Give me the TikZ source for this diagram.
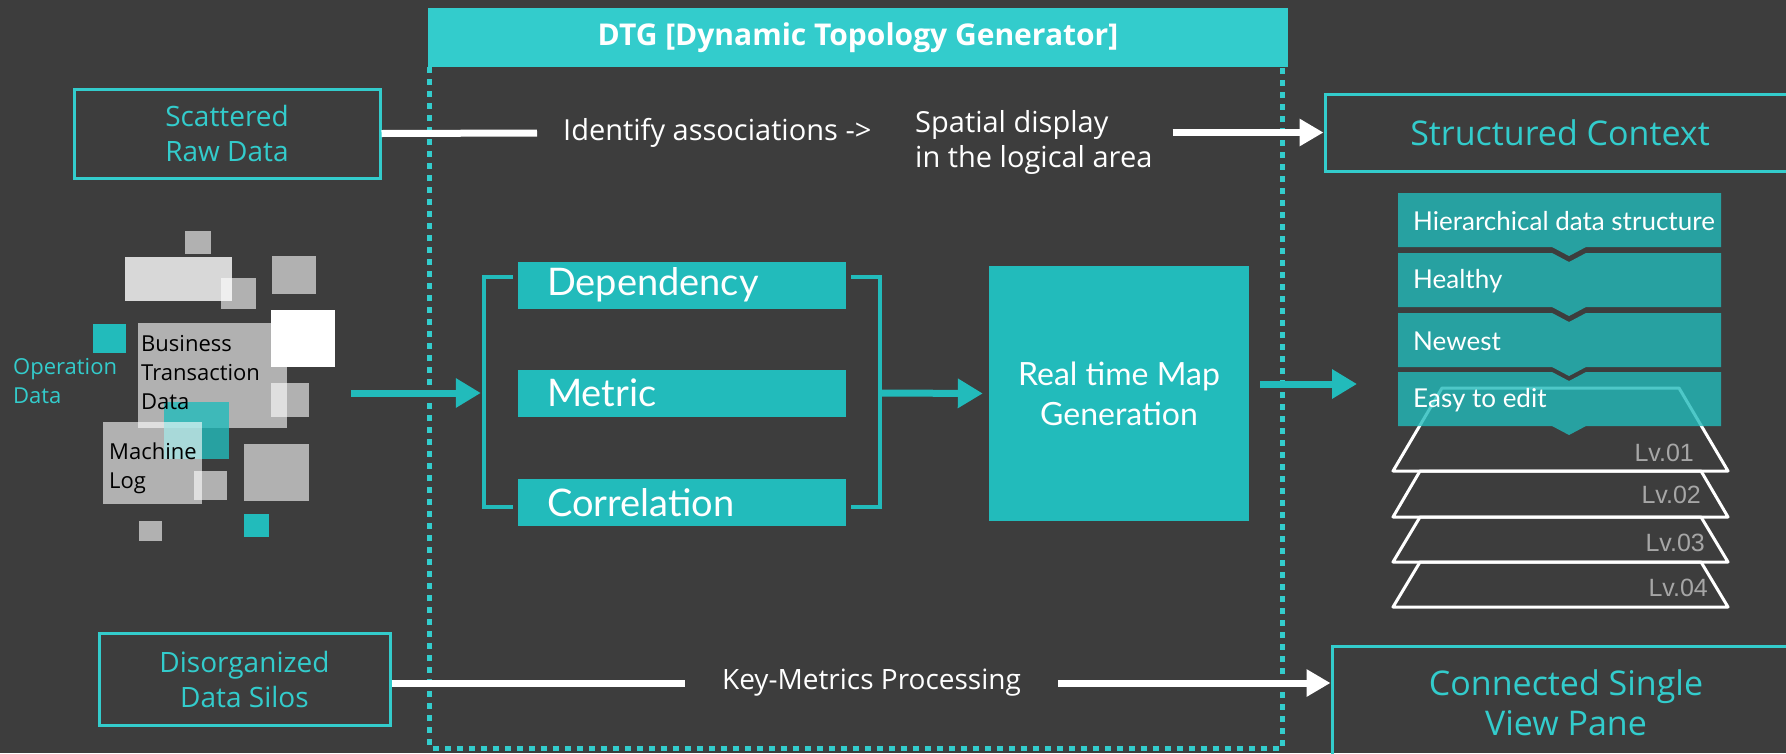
\documentclass[tikz,border=0pt]{standalone}
\usepackage{fontspec}
\setmainfont{Open Sans}
\newfontfamily\geofont{Lato}
\newfontfamily\lvfont{Liberation Sans}
\usetikzlibrary{arrows.meta,positioning}

\definecolor{bgdark}{RGB}{61,61,61}
\definecolor{dtgcyan}{RGB}{51,204,204}
\definecolor{dtgteal}{RGB}{34,187,187}
\definecolor{lvgray}{RGB}{166,166,166}
\newcommand{\fsz}[2]{\fontsize{#1pt}{#2pt}\selectfont}

\begin{document}
\begin{tikzpicture}[x=1pt,y=-1pt,
    outbox/.style={draw=dtgcyan, line width=3pt, text=dtgcyan, align=center, inner sep=0pt},
    flowtext/.style={text=white, inner ysep=0pt, font=\fsz{29}{35}},
    whiteline/.style={white, line width=7pt},
    whitearrow/.style={whiteline, -{Triangle[length=24pt,width=26pt]}},
    tealarrow/.style={dtgteal, line width=7pt, -{Triangle[length=25pt,width=28pt]}},
    bracket/.style={dtgteal, line width=4pt},
    factor/.style={fill=dtgteal, minimum height=47pt, text width=270pt, inner xsep=29pt, inner ysep=0pt, align=left, text=white, font=\geofont\fsz{38}{44}},
    listtext/.style={anchor=west, inner sep=0pt, text=white, font=\geofont\fsz{26}{30}},
    lvtext/.style={anchor=east, inner sep=0pt, text=lvgray, font=\lvfont\fsz{25}{28}},
    cube/.style={fill=white, fill opacity=0.6},
    cubetext/.style={anchor=west, align=left, inner sep=0pt, text=black, font=\fsz{22}{29}}
  ]
  % Background
  \useasboundingbox (0,0) rectangle (1786,753);
  \fill[bgdark] (0,0) rectangle (1786,753);

  % DTG frame
  \node[fill=dtgcyan, minimum width=860pt, minimum height=59pt, text=white, font=\bfseries\fsz{30}{36}] (dtg) at (858,37.5) {DTG [Dynamic Topology Generator]};
  \draw[dtgcyan, line width=5pt, dash pattern=on 6pt off 6pt] ([xshift=2pt]dtg.south west) -- ++(0,681) -| ([xshift=-6pt]dtg.south east);

  % Top row
  \node[outbox, minimum width=306pt, minimum height=89pt, font=\fsz{28}{35}] (raw) at (227,133.5) {Scattered\\Raw Data};
  \node[flowtext, anchor=west, inner xsep=26pt] (ident) at (537,133) {Identify associations ->};
  \node[flowtext, anchor=west, inner xsep=20pt, align=left] (spatial) at (895,142.5) {Spatial display\\in the logical area};
  \node[outbox, minimum width=470pt, minimum height=77pt, font=\fsz{34}{40}] (struct) at (1560,132.5) {Structured Context};
  \draw[whiteline] (raw.east) -- (ident.west);
  \draw[whitearrow] (spatial.east |- struct.west) -- (struct.west);

  % Bottom row
  \node[outbox, minimum width=291pt, minimum height=92pt, font=\fsz{28}{35}] (silo) at (244.5,679) {Disorganized\\Data Silos};
  \node[flowtext, inner xsep=37pt, font=\fsz{28}{32}] (key) at (871.5,683) {Key-Metrics Processing};
  \node[outbox, minimum width=468pt, minimum height=114pt, font=\fsz{34}{40}] (conn) at (1566,703) {Connected Single\\View Pane};
  \draw[whiteline] (silo.east |- key.west) -- (key.west);
  \draw[whitearrow] (key.east) -- (conn.west |- key.east);

  % Operation data
  \fill[cube] (185,231) rectangle (211,254);
  \fill[white, fill opacity=0.8] (125,257) rectangle (232,301);
  \fill[cube] (221,278) rectangle (256,309);
  \fill[cube] (272,256) rectangle (316,294);
  \fill[dtgteal] (93,324) rectangle (126,353);
  \fill[cube] (138,323) rectangle (287,428);
  \fill[white] (271,310) rectangle (335,367);
  \fill[cube] (271,383) rectangle (309,417);
  \fill[dtgteal, fill opacity=0.8] (164,402) rectangle (229,459);
  \fill[cube] (103,422) rectangle (202,504);
  \fill[cube] (194,471) rectangle (227,500);
  \fill[cube] (244,444) rectangle (309,501);
  \fill[cube] (139,521) rectangle (162,541);
  \fill[dtgteal] (244,514) rectangle (269,537);
  \node[cubetext, text=dtgcyan] (opdata) at (13,381) {Operation\\Data};
  \node[cubetext] (btd) at (141,373) {Business\\Transaction\\Data};
  \node[cubetext] (mlog) at (109,468.5) {Machine\\Log};

  % Factors and map generation
  \node[factor] (dep) at (682,285) {Dependency};
  \node[factor] (metric) at (682,393) {Metric};
  \node[factor] (corr) at (682,502.5) {Correlation};
  \draw[bracket] ([xshift=-5pt,yshift=8pt]dep.west) -| ([xshift=-34pt]metric.west) |- ([xshift=-5pt,yshift=-4pt]corr.west);
  \draw[bracket] ([xshift=5pt,yshift=8pt]dep.east) -| ([xshift=34pt]metric.east) |- ([xshift=5pt,yshift=-4pt]corr.east);
  \node[fill=dtgteal, minimum width=260pt, minimum height=255pt, text=white, align=center, font=\geofont\fsz{32}{40}] (map) at (1119,393.5) {Real time Map\\Generation};
  \coordinate (opin) at (351,393);
  \coordinate (listin) at (1357,384);
  \draw[tealarrow, shorten >=3pt] (opin) -- ([xshift=-34pt]metric.west);
  \draw[tealarrow, shorten >=6pt] ([xshift=34pt]metric.east) -- (map.west);
  \draw[tealarrow] ([xshift=11pt]map.east |- listin) -- (listin);

  % Levels
  \foreach \ya/\yb/\ins in {388/471/49, 471/517/27, 517/562/27, 562/607/27}
    \draw[white, line width=3pt, line join=round] ({1393+\ins},\ya) -- ({1728-\ins},\ya) -- (1728,\yb) -- (1393,\yb) -- cycle;
  \node[lvtext] (lv1) at (1694,453) {Lv.01};
  \node[lvtext] (lv2) at (1701,495) {Lv.02};
  \node[lvtext] (lv3) at (1705,543) {Lv.03};
  \node[lvtext] (lv4) at (1708,588) {Lv.04};

  % Structure list
  \foreach \ya/\dn/\name/\txt in {193/0/hier/Hierarchical data structure, 253/9/heal/Healthy, 313/9/newe/Newest, 372/9/easy/Easy to edit} {
    \fill[dtgteal, fill opacity=0.8] (1398,\ya) -- (1552,\ya) -- (1569,{\ya+\dn}) -- (1586,\ya) -- (1721,\ya) -- (1721,{\ya+54}) -- (1586,{\ya+54}) -- (1569,{\ya+63}) -- (1552,{\ya+54}) -- (1398,{\ya+54}) -- cycle;
    \node[listtext] (\name) at (1413,{\ya+28}) {\txt};
  }
\end{tikzpicture}
\end{document}
